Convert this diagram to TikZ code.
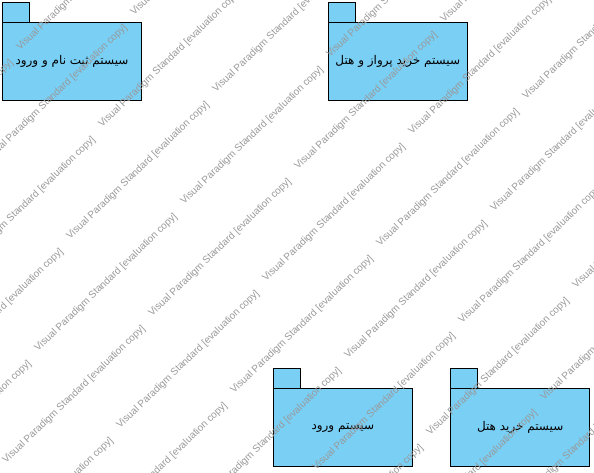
\documentclass[tikz,border=0pt]{standalone}
\usepackage{fontspec}
\setmainfont{Liberation Sans}
\newfontfamily\arabicfont[Script=Arabic]{DejaVu Sans}
\TeXXeTstate=1
\usepackage{tikz}
\usepackage{xcolor}
\usetikzlibrary{positioning}

\definecolor{pkgblue}{RGB}{122,207,245}
\tikzset{
    pkg/.style={draw, fill=pkgblue, line width=1pt, minimum width=139pt, minimum height=78pt, inner sep=0pt, outer sep=0pt, font=\arabicfont\fontsize{12}{14}\selectfont},
    pkgtab/.style={draw, fill=pkgblue, line width=1pt, minimum width=27pt, minimum height=20pt, inner sep=0pt, outer sep=0pt},
    watermark/.style={text=black!40, font=\fontsize{10}{12}\selectfont, rotate=44, anchor=base west, inner sep=0pt}
}

\begin{document}
\begin{tikzpicture}[x=1pt, y=-1pt]
                    \useasboundingbox (0, 0) rectangle (594, 472);

                    \node[pkg] (signup) at (72, 61.7) {\beginR سیستم ثبت نام و ورود\endR};
                    \node[pkg] (booking) at (397.8, 61.7) {\beginR سیستم خرید پرواز و هتل\endR};
                    \node[pkg] (login) at (342.8, 427.8) {\beginR سیستم ورود\endR};
                    \node[pkg] (hotel) at (520.2, 427.8) {\beginR سیستم خرید هتل\endR};

                    \node[pkgtab, above right=0pt and 0pt of signup.north west] (signuptab) {};
                    \node[pkgtab, above right=0pt and 0pt of booking.north west] (bookingtab) {};
                    \node[pkgtab, above right=0pt and 0pt of login.north west] (logintab) {};
                    \node[pkgtab, above right=0pt and 0pt of hotel.north west] (hoteltab) {};

                    % evaluation watermark, only the copies that reach the page
                    \foreach \m in {-2,...,7}
                        \foreach \n in {-3,...,5} {
                            \pgfmathtruncatemacro{\wx}{70+114*\m-32*\n}
                            \pgfmathtruncatemacro{\wy}{240-35*\m+112*\n}
                            \pgfmathtruncatemacro{\wvis}{and(and(\wx>-140,\wx<594),and(\wy>0,\wy<606))}
                            \ifnum\wvis=1
                                \node[watermark] (wm\m\n) at (\wx, \wy) {Visual Paradigm Standard [evaluation copy]};
                            \fi
                        }
                \end{tikzpicture}
\end{document}
